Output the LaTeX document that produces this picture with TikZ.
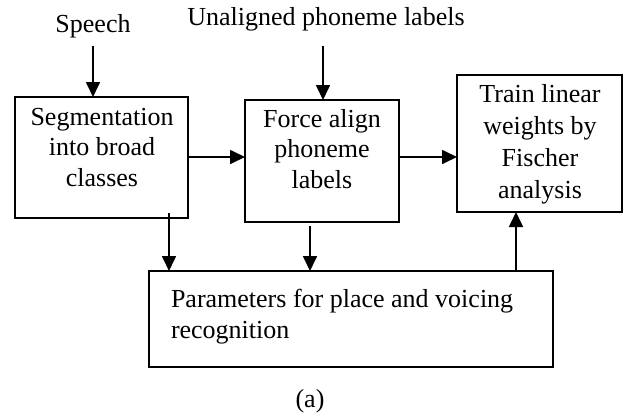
\documentclass[tikz,border=0pt]{standalone}
\usepackage{fontspec}
\setmainfont{Liberation Serif}
\usetikzlibrary{arrows.meta}
\begin{document}
\begin{tikzpicture}[x=1pt,y=-1pt,
  box/.style={draw, line width=1.8pt, inner sep=0pt, outer sep=0pt},
  txt/.style={font=\fontsize{26}{30.5}\selectfont, inner sep=0pt, outer sep=0pt, align=center},
  arr/.style={line width=1.7pt, -{Triangle[length=15pt,width=14pt]}}]
\useasboundingbox (0,0) rectangle (625,416);
% boxes
\node[box, minimum width=173pt, minimum height=121pt] (b1) at (101.5,157.5) {};
\node[box, minimum width=154pt, minimum height=122pt] (b2) at (322,161) {};
\node[box, minimum width=165pt, minimum height=137pt] (b3) at (539.5,143.5) {};
\node[box, minimum width=404pt, minimum height=96pt] (b4) at (351,319) {};
% texts
\node[txt, anchor=base] (speech) at (93,32) {Speech};
\node[txt, anchor=base] (unal) at (326,25) {Unaligned phoneme labels};
\node[txt, anchor=north] (t1) at (102,108.2) {Segmentation\\into broad\\classes};
\node[txt, anchor=north] (t2) at (322,109.2) {Force align\\phoneme\\labels};
\node[txt, anchor=north, font=\fontsize{26}{32}\selectfont] (t3) at (540,84.2) {Train linear\\weights by\\Fischer\\analysis};
\node[txt, anchor=north west, align=left] (t4) at (171,289.2) {Parameters for place and voicing\\recognition};
\node[txt, anchor=base] (cap) at (310,407) {(a)};
% connectors
\draw[arr] ([yshift=-8pt]speech.south) -- (speech.south |- b1.north);
\draw[arr] ([xshift=-3pt,yshift=-15pt]unal.south) -- ([xshift=-3pt]unal.south |- b2.north);
\draw[arr] ([yshift=0.5pt]b1.east) -- ([yshift=0.5pt]b1.east -| b2.west);
\draw[arr] ([yshift=0.5pt]b1.east -| b2.east) -- ([yshift=0.5pt]b1.east -| b3.west);
\draw[arr] ([xshift=67.5pt,yshift=5pt]b1.south) -- ([xshift=67.5pt]b1.south |- b4.north);
\draw[arr] ([xshift=-12pt,yshift=-4pt]b2.south) -- ([xshift=-12pt]b2.south |- b4.north);
\draw[arr] ([xshift=165pt]b4.north) -- ([xshift=165pt]b4.north |- b3.south);
\end{tikzpicture}
\end{document}
